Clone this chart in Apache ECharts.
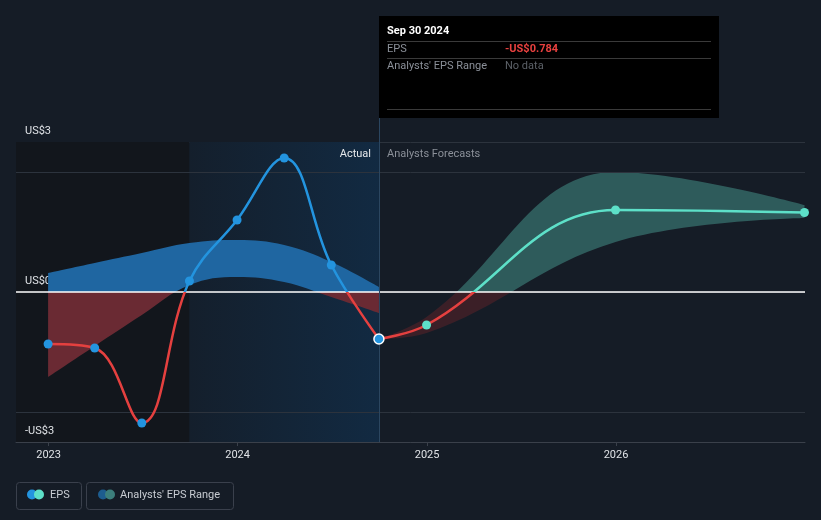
<!DOCTYPE html>
<html>
<head>
<meta charset="utf-8">
<script src="https://cdn.jsdelivr.net/npm/echarts@6/dist/echarts.min.js"></script>
<style>
  html, body { margin: 0; padding: 0; background: #151c26; }
  #chart { width: 821px; height: 520px; }
</style>
</head>
<body>
<div id="chart"></div>
<script>
// 实际 EPS（季度）
const actualDates = ['2022-12-31', '2023-03-31', '2023-06-30', '2023-09-30', '2023-12-31', '2024-03-31', '2024-06-30', '2024-09-30']
const actualEps = [-1.04, -1.12, -2.62, 0.22, 1.44, 2.68, 0.54, -0.94]
// 过去的分析师区间
const pastRangeLow = [-1.7, -1.08, -0.46, 0.14, 0.3, 0.2, -0.1, -0.42]
const pastRangeHigh = [0.38, 0.58, 0.78, 0.98, 1.04, 0.94, 0.6, 0.1]

// 预测
const forecastDates = ['2024-09-30', '2024-12-31', '2025-12-31', '2026-12-31']
const forecastEps = [-0.94, -0.66, 1.64, 1.59]
const forecastLow = [-0.94, -0.82, 1.0, 1.48]
const forecastHigh = [-0.94, -0.5, 2.4, 1.74]

const yearTicks = ['2023-01-01', '2024-01-01', '2025-01-01', '2026-01-01']
const X_MIN = '2022-10-30'
const X_MAX = '2027-01-01'
const Y_MIN = -3
const Y_MAX = 3

const t = s => Date.parse(s + 'T00:00:00Z')
const ax = actualDates.map(t)
const fx = forecastDates.map(t)
const pair = (xs, ys) => xs.map((x, i) => [x, ys[i]])
// 区间序列：值放在第 0 维（encode 再映射），这样堆叠落在 y 上
const bandPair = (xs, ys) => xs.map((x, i) => [ys[i], x])
const bandDiff = (xs, lo, hi) => xs.map((x, i) => [+(hi[i] - lo[i]).toFixed(3), x])
const bandEncode = { x: 1, y: 0 }

const RED = '#e5403f'
const BLUE = '#2394df'
const TEAL = '#5de0c8'

// 正负分段配色
const signPieces = (neg, pos) => [
  { gte: -10, lt: 0, color: neg },
  { gte: 0, lte: 10, color: pos }
]

// 以 0 为界的上下两色渐变（全局坐标）
function splitFill(y0, y1, yZero, pos, neg) {
  const k = (yZero - y0) / (y1 - y0)
  return {
    type: 'linear', global: true, x: 0, y: y0, x2: 0, y2: y1,
    colorStops: [
      { offset: 0, color: pos }, { offset: k, color: pos },
      { offset: k, color: neg }, { offset: 1, color: neg }
    ]
  }
}

const myChart = echarts.init(document.getElementById('chart'))

const txt = (x, y, text, fill, extra) => ({
  type: 'text', x: x, y: y, z: 20, silent: true,
  style: Object.assign({ text: text, fill: fill, font: '11px Roboto', verticalAlign: 'middle' }, extra || {})
})

const option = {
  backgroundColor: '#151c26',
  animation: false,
  textStyle: { fontFamily: 'Roboto, sans-serif' },
  grid: { left: 16, right: 16, top: 142, bottom: 78 },
  xAxis: {
    type: 'value',
    min: t(X_MIN),
    max: t(X_MAX),
    splitLine: { show: false },
    axisLine: { onZero: false, lineStyle: { color: '#3a404a', width: 1 } },
    axisTick: { customValues: yearTicks.map(t), length: 4, lineStyle: { color: '#3a404a' } },
    axisLabel: {
      customValues: yearTicks.map(t),
      color: '#dfe2e6',
      fontSize: 11,
      margin: 8,
      formatter: v => String(new Date(v).getUTCFullYear())
    }
  },
  yAxis: {
    type: 'value',
    min: Y_MIN,
    max: Y_MAX,
    interval: 3,
    axisLine: { show: false },
    axisTick: { show: false },
    splitLine: { lineStyle: { color: '#2c333d', width: 1 } },
    axisLabel: {
      inside: true,
      margin: 9,
      color: '#dfe2e6',
      fontSize: 11,
      verticalAlign: 'bottom',
      padding: [0, 0, 5, 0],
      formatter: v => (v < 0 ? '-US$' + Math.abs(v) : 'US$' + v)
    }
  },
  visualMap: [
    { type: 'piecewise', show: false, seriesIndex: 4, dimension: 1, pieces: signPieces(RED, BLUE) },
    { type: 'piecewise', show: false, seriesIndex: 5, dimension: 1, pieces: signPieces(RED, TEAL) }
  ],
  series: [
    {
      // 过去区间底部（透明）+ 背景区域
      type: 'line',
      stack: 'past',
      stackStrategy: 'all',
      encode: bandEncode,
      data: bandPair(ax, pastRangeLow),
      smooth: 0.4,
      showSymbol: false,
      silent: true,
      lineStyle: { opacity: 0 },
      z: 1,
      markArea: {
        silent: true,
        z: 0,
        data: [
          [{ xAxis: t(X_MIN), itemStyle: { color: '#12161c' } }, { xAxis: ax[3] }],
          [{
            xAxis: ax[3],
            itemStyle: {
              color: {
                type: 'linear', x: 0, y: 0, x2: 1, y2: 0,
                colorStops: [
                  { offset: 0, color: '#141f2c' },
                  { offset: 1, color: '#122a42' }
                ]
              }
            }
          }, { xAxis: ax[7] }]
        ]
      },
      markLine: {
        silent: true,
        symbol: 'none',
        z: 2,
        label: { show: false },
        data: [
          { yAxis: 0, lineStyle: { color: '#ffffff', width: 1.5, type: 'solid' } },
          { yAxis: 2.4, lineStyle: { color: '#2c333d', width: 1, type: 'solid' } },
          { yAxis: -2.4, lineStyle: { color: '#2c333d', width: 1, type: 'solid' } },
          { xAxis: ax[7], lineStyle: { color: '#2b4660', width: 1, type: 'solid' } }
        ]
      }
    },
    {
      // 过去区间
      type: 'line',
      stack: 'past',
      stackStrategy: 'all',
      encode: bandEncode,
      data: bandDiff(ax, pastRangeLow, pastRangeHigh),
      smooth: 0.4,
      showSymbol: false,
      silent: true,
      lineStyle: { width: 0 },
      areaStyle: { opacity: 1, color: '#1f66a1' },
      z: 1
    },
    {
      type: 'line',
      stack: 'future',
      stackStrategy: 'all',
      encode: bandEncode,
      data: bandPair(fx, forecastLow),
      smooth: 0.4,
      showSymbol: false,
      silent: true,
      lineStyle: { opacity: 0 },
      z: 1
    },
    {
      // 预测区间
      type: 'line',
      stack: 'future',
      stackStrategy: 'all',
      encode: bandEncode,
      data: bandDiff(fx, forecastLow, forecastHigh),
      smooth: 0.4,
      showSymbol: false,
      silent: true,
      lineStyle: { width: 0 },
      areaStyle: { opacity: 1, color: '#2e5b5b' },
      z: 1
    },
    {
      name: 'EPS',
      type: 'line',
      data: pair(ax, actualEps),
      smooth: 0.4,
      showSymbol: false,
      lineStyle: { width: 2.5 },
      z: 3
    },
    {
      name: 'Forecast',
      type: 'line',
      data: pair(fx, forecastEps),
      smooth: 0.4,
      showSymbol: false,
      lineStyle: { width: 2.5 },
      z: 3
    },
    {
      type: 'scatter',
      data: pair(ax, actualEps).map((p, i) => i === ax.length - 1
        ? { value: p, symbolSize: 10, itemStyle: { borderColor: '#ffffff', borderWidth: 1.5 } }
        : p),
      symbolSize: 9,
      itemStyle: { color: BLUE, opacity: 1 },
      z: 5
    },
    {
      type: 'scatter',
      data: pair(fx, forecastEps).slice(1),
      symbolSize: 9,
      itemStyle: { color: TEAL, opacity: 1 },
      z: 4
    }
  ],
  graphic: [
    // 分隔文字
    txt(371, 154, 'Actual', '#e6e8eb', { align: 'right' }),
    txt(387, 154, 'Analysts Forecasts', '#8b9099'),
    // 提示框
    { type: 'line', silent: true, z: 20, shape: { x1: 379.5, y1: 118, x2: 379.5, y2: 142 },
      style: { stroke: '#2b4660', lineWidth: 1 } },
    { type: 'rect', silent: true, z: 19, shape: { x: 379, y: 16, width: 340, height: 102 }, style: { fill: '#000000' } },
    txt(387, 31, 'Sep 30 2024', '#ffffff', { font: 'bold 11px Roboto' }),
    { type: 'line', silent: true, z: 20, shape: { x1: 387, y1: 41.5, x2: 711, y2: 41.5 }, style: { stroke: '#3a3a3a', lineWidth: 1 } },
    txt(387, 49, 'EPS', '#8b9099'),
    txt(505, 49, '-US$0.784', '#e8413f', { font: 'bold 11px Roboto' }),
    { type: 'line', silent: true, z: 20, shape: { x1: 387, y1: 58.5, x2: 711, y2: 58.5 }, style: { stroke: '#3a3a3a', lineWidth: 1 } },
    txt(387, 66, "Analysts' EPS Range", '#8b9099'),
    txt(505, 66, 'No data', '#5c6168'),
    { type: 'line', silent: true, z: 20, shape: { x1: 387, y1: 109.5, x2: 711, y2: 109.5 }, style: { stroke: '#3a3a3a', lineWidth: 1 } },
    // 图例
    { type: 'rect', silent: true, shape: { x: 16.5, y: 482.5, width: 65, height: 27, r: 3 },
      style: { fill: 'none', stroke: '#3a404c', lineWidth: 1 } },
    { type: 'circle', silent: true, shape: { cx: 32, cy: 494.5, r: 5 }, style: { fill: BLUE } },
    { type: 'circle', silent: true, shape: { cx: 39, cy: 494.5, r: 5 }, style: { fill: TEAL } },
    txt(50, 495, 'EPS', '#c8ccd2'),
    { type: 'rect', silent: true, shape: { x: 86.5, y: 482.5, width: 147, height: 27, r: 3 },
      style: { fill: 'none', stroke: '#3a404c', lineWidth: 1 } },
    { type: 'circle', silent: true, shape: { cx: 103, cy: 494.5, r: 5 }, style: { fill: '#1d5d8f' } },
    { type: 'circle', silent: true, shape: { cx: 110, cy: 494.5, r: 5 }, style: { fill: '#3c7f7c' } },
    txt(120, 495, "Analysts' EPS Range", '#c8ccd2')
  ]
}

myChart.setOption(option)

// 区间面积按 0 线分色：用坐标系换算出像素位置
const yTop = myChart.convertToPixel({ gridIndex: 0 }, [t(X_MIN), Y_MAX])[1]
const yBottom = myChart.convertToPixel({ gridIndex: 0 }, [t(X_MIN), Y_MIN])[1]
const yZero = myChart.convertToPixel({ gridIndex: 0 }, [t(X_MIN), 0])[1]
myChart.setOption({
  series: [
    {},
    { areaStyle: { color: splitFill(yTop, yBottom, yZero, '#1f66a1', '#6a2a33') } },
    {},
    { areaStyle: { color: splitFill(yTop, yBottom, yZero, '#2e5b5b', '#3b1f27') } }
  ]
})

window.addEventListener('resize', () => {
  myChart.resize()
})
</script>
</body>
</html>
